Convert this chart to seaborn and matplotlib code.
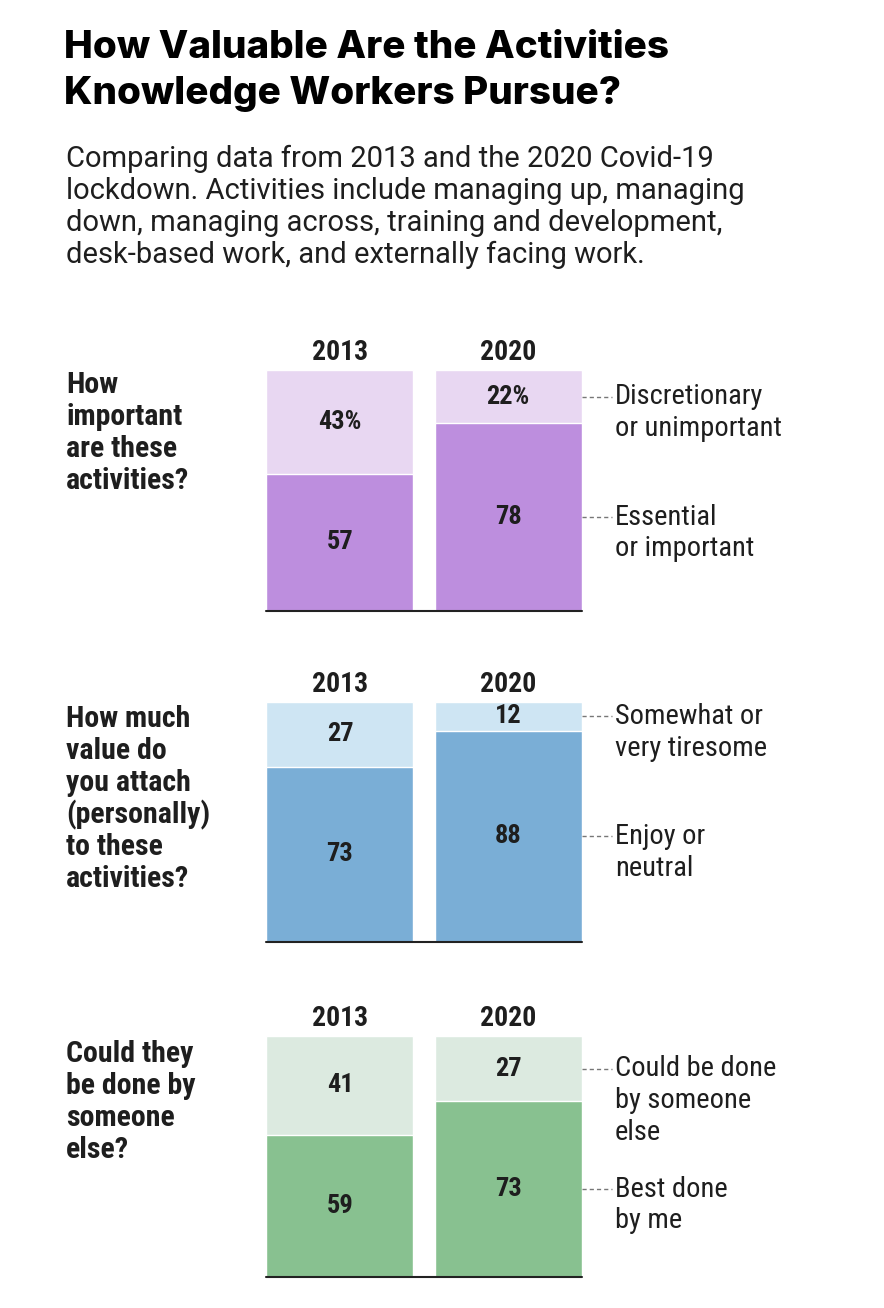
import matplotlib
matplotlib.use('Agg')
import matplotlib.pyplot as plt
import seaborn as sns
import pandas as pd

# Data
years = ['2013', '2020']
questions = ['How\nimportant\nare these\nactivities?',
             'How much\nvalue do\nyou attach\n(personally)\nto these\nactivities?',
             'Could they\nbe done by\nsomeone\nelse?']
top_labels = ['Discretionary\nor unimportant', 'Somewhat or\nvery tiresome', 'Could be done\nby someone\nelse']
bottom_labels = ['Essential\nor important', 'Enjoy or\nneutral', 'Best done\nby me']
important = [57, 78]
enjoy = [73, 88]
best_by_me = [59, 73]
panel_values = [important, enjoy, best_by_me]

dark_colors = ['#BD8EDE', '#7AAED6', '#88C190']
light_colors = ['#E8D7F2', '#CEE5F3', '#DCEAE0']

sns.set_theme(style='white')
cond = ['Roboto Condensed', 'Roboto', 'DejaVu Sans']
plt.rcParams['font.family'] = cond
TXT = '#1e1e1e'

W, H = 884, 1308
fig = plt.figure(figsize=(W / 100, H / 100), dpi=100)
fig.patch.set_facecolor('white')

# Title and subtitle, one text per line
title_lines = ['How Valuable Are the Activities', 'Knowledge Workers Pursue?']
for k, line in enumerate(title_lines):
    fig.text(64 / W, 1 - (58 + 46 * k) / H, line, family=['Inter', 'Roboto', 'DejaVu Sans'],
             weight=800, fontsize=27.8, color='black', va='baseline', ha='left')

subtitle_lines = ['Comparing data from 2013 and the 2020 Covid-19',
                  'lockdown. Activities include managing up, managing',
                  'down, managing across, training and development,',
                  'desk-based work, and externally facing work.']
for k, line in enumerate(subtitle_lines):
    fig.text(66 / W, 1 - (167 + 32 * k) / H, line, family=['Roboto', 'DejaVu Sans'],
             fontsize=21, color=TXT, va='baseline', ha='left')

panel_tops = [370, 702, 1036]
panel_bottoms = [611, 942, 1277]
question_baselines = [393, 727, 1062]
left_px, right_px = 266, 582

for i in range(3):
    top, bot = panel_tops[i], panel_bottoms[i]
    ax = fig.add_axes([left_px / W, 1 - bot / H, (right_px - left_px) / W, (bot - top) / H])
    vals = panel_values[i]
    df = pd.DataFrame({'year': years, 'dark': vals, 'total': [100, 100]})
    sns.barplot(data=df, x='year', y='total', color=light_colors[i], saturation=1,
                width=0.875, ax=ax)
    sns.barplot(data=df, x='year', y='dark', color=dark_colors[i], saturation=1,
                width=0.875, ax=ax)
    ax.set_xlim(-0.44, 1.44)
    ax.set_ylim(0, 100)
    ax.axis('off')
    ax.plot([-0.44, 1.44], [0, 0], color='#222222', lw=1.5, clip_on=False)

    for j, v in enumerate(vals):
        light = 100 - v
        suffix = '%' if i == 0 else ''
        ax.annotate(years[j], xy=(j, 100), xytext=(0, 7), textcoords='offset points',
                    ha='center', va='baseline', fontsize=20, weight='bold', color=TXT,
                    annotation_clip=False)
        ax.text(j, v + light / 2, f'{light}{suffix}', ha='center', va='center',
                fontsize=19, weight='bold', color=TXT)
        ax.text(j, v / 2, f'{v}', ha='center', va='center',
                fontsize=19, weight='bold', color=TXT)

    # leader labels for the 2020 bar
    v = vals[1]
    for y, lab in [(v + (100 - v) / 2, top_labels[i]), (v / 2, bottom_labels[i])]:
        ax.plot([1.44, 1.62], [y, y], color='#777777', lw=1.0, ls=(0, (3, 2.2)),
                clip_on=False)
        for k, line in enumerate(lab.split('\n')):
            ax.annotate(line, xy=(1.635, y), xytext=(0, -23 * k), textcoords='offset points',
                        ha='left', va='center', fontsize=20.5, color=TXT,
                        annotation_clip=False)

    # question on the left
    for k, line in enumerate(questions[i].split('\n')):
        fig.text(66 / W, 1 - (question_baselines[i] + 32 * k) / H, line, ha='left',
                 va='baseline', fontsize=21.5, weight='bold', color=TXT)

fig.savefig('out.png', dpi=100, facecolor='white')
plt.close('all')
